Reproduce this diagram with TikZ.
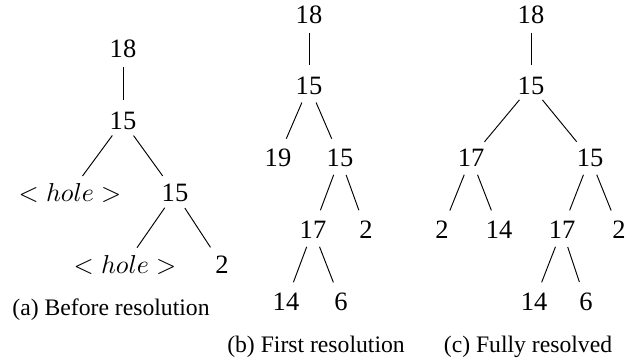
\documentclass[tikz,border=0pt]{standalone}
\usepackage{fontspec}
\setmainfont{Liberation Serif}
\begin{document}
\begin{tikzpicture}[x=0.4225pt,y=-0.4225pt,
  lbl/.style={inner sep=0pt, font=\fontsize{11.2}{13}\selectfont},
  captext/.style={inner sep=0pt, font=\fontsize{10}{12}\selectfont},
  edge/.style={line width=0.4pt, shorten <=7.6pt, shorten >=8.9pt}]
\useasboundingbox (0,0) rectangle (639,363);
\newcommand{\hole}{$<hole>$}
% tree (a)
\node[lbl] (a1) at (123,49) {18};
\node[lbl] (a2) at (123,121) {15};
\node[lbl] (a3) at (70,193) {\hole};
\node[lbl] (a4) at (175,193) {15};
\node[lbl] (a5) at (125,265) {\hole};
\node[lbl] (a6) at (222,265) {2};
\node[captext] (ca) at (111,310) {(a) Before resolution};
\draw[edge] (a1.center) -- (a2.center);
\draw[edge] (a2.center) -- (a3.center);
\draw[edge] (a2.center) -- (a4.center);
\draw[edge] (a4.center) -- (a5.center);
\draw[edge] (a4.center) -- (a6.center);
% tree (b)
\node[lbl] (b1) at (309,15) {18};
\node[lbl] (b2) at (309,86) {15};
\node[lbl] (b3) at (278,158) {19};
\node[lbl] (b4) at (340,158) {15};
\node[lbl] (b5) at (313,230) {17};
\node[lbl] (b6) at (366,230) {2};
\node[lbl] (b7) at (286,302) {14};
\node[lbl] (b8) at (341,302) {6};
\node[captext] (cb) at (316,347) {(b) First resolution};
\draw[edge] (b1.center) -- (b2.center);
\draw[edge] (b2.center) -- (b3.center);
\draw[edge] (b2.center) -- (b4.center);
\draw[edge] (b4.center) -- (b5.center);
\draw[edge] (b4.center) -- (b6.center);
\draw[edge] (b5.center) -- (b7.center);
\draw[edge] (b5.center) -- (b8.center);
% tree (c)
\node[lbl] (c1) at (531,15) {18};
\node[lbl] (c2) at (531,86) {15};
\node[lbl] (c3) at (471,158) {17};
\node[lbl] (c4) at (590,158) {15};
\node[lbl] (c5) at (442,230) {2};
\node[lbl] (c6) at (499,230) {14};
\node[lbl] (c7) at (562,230) {17};
\node[lbl] (c8) at (619,230) {2};
\node[lbl] (c9) at (534,302) {14};
\node[lbl] (c10) at (586,302) {6};
\node[captext] (cc) at (528,347) {(c) Fully resolved};
\draw[edge] (c1.center) -- (c2.center);
\draw[edge] (c2.center) -- (c3.center);
\draw[edge] (c2.center) -- (c4.center);
\draw[edge] (c3.center) -- (c5.center);
\draw[edge] (c3.center) -- (c6.center);
\draw[edge] (c4.center) -- (c7.center);
\draw[edge] (c4.center) -- (c8.center);
\draw[edge] (c7.center) -- (c9.center);
\draw[edge] (c7.center) -- (c10.center);
\end{tikzpicture}
\end{document}
